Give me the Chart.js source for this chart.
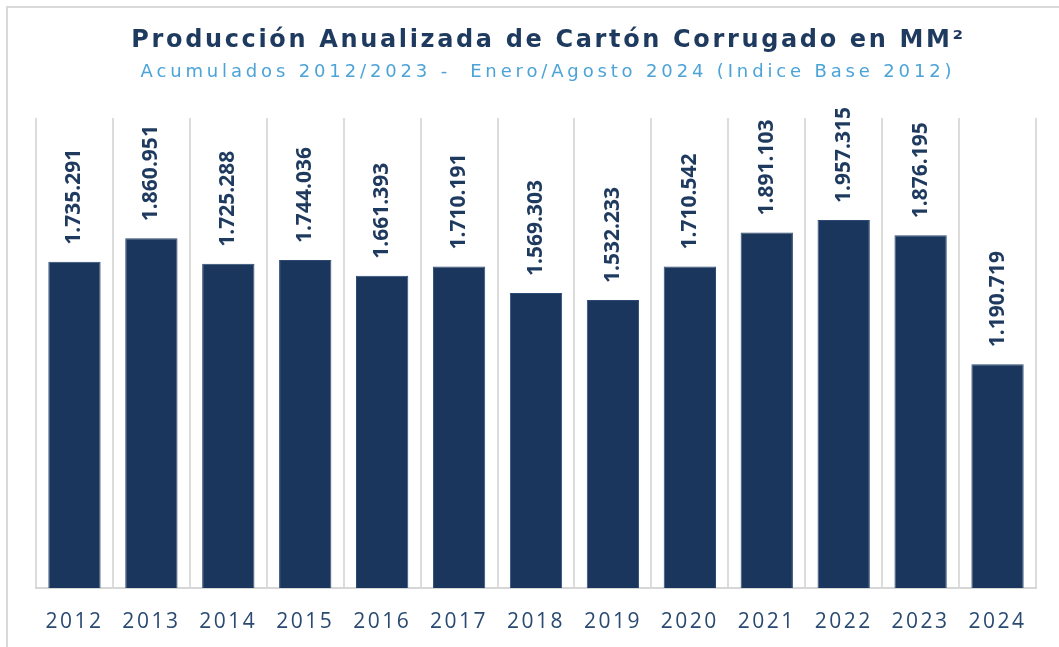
<!DOCTYPE html>
<html lang="es">
<head>
<meta charset="UTF-8">
<script src="https://cdn.jsdelivr.net/npm/chart.js"></script>
<title>Producción Anualizada de Cartón Corrugado</title>
<style>
    html, body { margin: 0; padding: 0; background: #fff; }
    .frame {
        position: absolute; left: 6px; top: 6px; width: 1060px; height: 650px;
        border-left: 2px solid #d9d9d9; border-top: 2px solid #d9d9d9;
    }
    .wrap { position: absolute; left: 0; top: 0; width: 1059px; height: 647px; }
    .title {
        position: absolute; left: 0; width: 1097px; top: 25px; text-align: center;
        font: bold 24px "DejaVu Sans", sans-serif; color: #1f3a5f; letter-spacing: 2.65px;
        white-space: pre;
    }
    .subtitle {
        position: absolute; left: 0; width: 1096px; top: 60px; text-align: center;
        font: 18px "DejaVu Sans", sans-serif; color: #4ba3d8; letter-spacing: 3.85px;
        white-space: pre;
    }
</style>
</head>
<body>
<div class="frame"></div>
<div class="wrap"><canvas id="chart" width="1059" height="647"></canvas></div>
<div class="title">Producción Anualizada de Cartón Corrugado en MM²</div>
<div class="subtitle">Acumulados 2012/2023 -  Enero/Agosto 2024 (Indice Base 2012)</div>
<script>
const years = ['2012', '2013', '2014', '2015', '2016', '2017', '2018', '2019', '2020', '2021', '2022', '2023', '2024'];
const production = [1735291, 1860951, 1725288, 1744036, 1661393, 1710191, 1569303, 1532233, 1710542, 1891103, 1957315, 1876195, 1190719];
const yMax = 2500000;

const barColor = '#1b365d';
const textColor = '#1f3a5f';

function fmt(v) {
    return String(v).replace(/\B(?=(\d{3})+(?!\d))/g, '.');
}

// spaced-out axis text, value labels drawn rotated above each bar
const labelPlugin = {
    id: 'barLabels',
    beforeDraw(chart) {
        chart.ctx.letterSpacing = '2.5px';
    },
    afterDatasetsDraw(chart) {
        const ctx = chart.ctx;
        const meta = chart.getDatasetMeta(0);
        ctx.save();
        ctx.letterSpacing = '0px';
        ctx.fillStyle = textColor;
        ctx.font = 'bold 21px "Open Sans", sans-serif';
        ctx.textAlign = 'left';
        ctx.textBaseline = 'middle';
        meta.data.forEach((bar, i) => {
            ctx.save();
            ctx.translate(bar.x, bar.y - 17);
            ctx.rotate(-Math.PI / 2);
            ctx.fillText(fmt(production[i]), 0, 0);
            ctx.restore();
        });
        ctx.restore();
    },
    afterDraw(chart) {
        chart.ctx.letterSpacing = '0px';
    }
};

new Chart(document.getElementById('chart'), {
    type: 'bar',
    data: {
        labels: years,
        datasets: [{
            data: production,
            backgroundColor: barColor,
            borderColor: '#2d4a72',
            borderWidth: 1,
            categoryPercentage: 1,
            barPercentage: 0.68
        }]
    },
    plugins: [labelPlugin],
    options: {
        responsive: false,
        animation: false,
        layout: { padding: { left: 36, right: 23, top: 118, bottom: 0 } },
        plugins: {
            legend: { display: false },
            tooltip: { enabled: false }
        },
        scales: {
            x: {
                offset: true,
                grid: { offset: true, color: '#dcdcdc', lineWidth: 2, drawTicks: false },
                border: { color: '#d6d6d6', width: 2 },
                ticks: {
                    color: '#2a4a72',
                    font: { family: '"Open Sans", sans-serif', size: 21 },
                    padding: 21,
                    autoSkip: false,
                    maxRotation: 0
                },
                afterFit(s) { s.height = 59; }
            },
            y: {
                display: false,
                min: 0,
                max: yMax
            }
        }
    }
});
</script>
</body>
</html>
